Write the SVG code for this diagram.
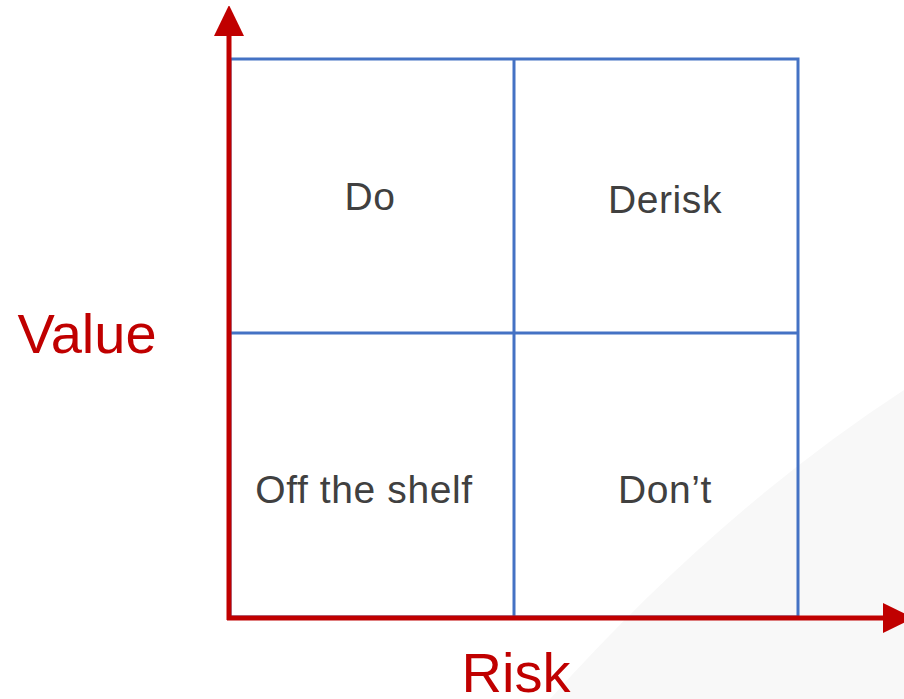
<svg xmlns="http://www.w3.org/2000/svg" width="904" height="699" viewBox="0 0 904 699">
  <style>
    .grid { stroke: #4472C4; stroke-width: 3; fill: none; }
    .axis { stroke: #C00000; stroke-width: 5; fill: none; }
    .cell { font-family: "Liberation Sans", Arial, sans-serif; font-size: 39px; letter-spacing: 0.6px; fill: #404040; text-anchor: middle; }
    .axislabel { font-family: "Liberation Sans", Arial, sans-serif; font-size: 56px; fill: #C00000; text-anchor: middle; }
  </style>
  <defs>
    <marker id="arrow" viewBox="0 0 30 30" refX="0" refY="15" markerWidth="30" markerHeight="30" markerUnits="userSpaceOnUse" orient="auto">
      <path d="M0,0 L31,15 L0,30 Z" fill="#C00000"/>
    </marker>
  </defs>
  <rect width="904" height="699" fill="#ffffff"/>
  <path d="M904,390 Q720,510 550,699 L904,699 Z" fill="#f8f8f8"/>
  <g id="grid">
    <rect class="grid" x="230" y="59" width="568" height="558"/>
    <line class="grid" x1="514" y1="59" x2="514" y2="617"/>
    <line class="grid" x1="230" y1="333" x2="798" y2="333"/>
  </g>
  <g id="connectors">
    <line class="axis" x1="229" y1="620" x2="229" y2="36" marker-end="url(#arrow)"/>
    <line class="axis" x1="227" y1="618" x2="883" y2="618" marker-end="url(#arrow)"/>
  </g>
  <g id="do"><text class="cell" x="370" y="210">Do</text></g>
  <g id="derisk"><text class="cell" x="665" y="213">Derisk</text></g>
  <g id="off-the-shelf"><text class="cell" x="364" y="503">Off the shelf</text></g>
  <g id="dont"><text class="cell" x="665" y="503">Don’t</text></g>
  <g id="value-label"><text class="axislabel" x="87" y="353">Value</text></g>
  <g id="risk-label"><text class="axislabel" x="516" y="692">Risk</text></g>
</svg>
